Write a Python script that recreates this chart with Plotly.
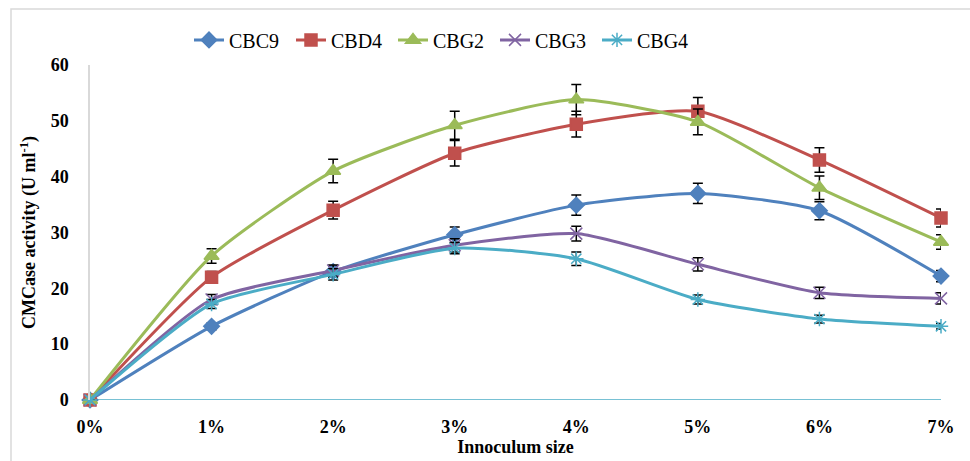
import plotly.graph_objects as go

categories = ["0%", "1%", "2%", "3%", "4%", "5%", "6%", "7%"]

cbc9 = [0, 13.2, 23.0, 29.6, 34.9, 37.0, 33.9, 22.2]
cbd4 = [0, 22.0, 34.0, 44.2, 49.4, 51.7, 43.0, 32.6]
cbg2 = [0, 25.8, 41.0, 49.2, 53.8, 49.8, 38.0, 28.3]
cbg3 = [0, 18.0, 23.2, 27.7, 29.8, 24.3, 19.2, 18.2]
cbg4 = [0, 17.2, 22.5, 27.2, 25.3, 18.0, 14.5, 13.2]

cbc9_err = [0, 0.6, 1.0, 1.4, 1.8, 1.8, 1.6, 1.0]
cbd4_err = [0, 1.0, 1.6, 2.3, 2.3, 2.5, 2.2, 1.6]
cbg2_err = [0, 1.3, 2.1, 2.5, 2.7, 2.3, 2.1, 1.3]
cbg3_err = [0, 0.9, 1.0, 1.2, 1.3, 1.2, 1.0, 1.0]
cbg4_err = [0, 0.8, 1.0, 1.0, 1.2, 0.8, 0.7, 0.5]

series = [
    ("CBC9", cbc9, cbc9_err, "#4F81BD", "diamond", 12),
    ("CBD4", cbd4, cbd4_err, "#C0504D", "square", 12),
    ("CBG2", cbg2, cbg2_err, "#9BBB59", "triangle-up", 13),
    ("CBG3", cbg3, cbg3_err, "#8064A2", "x-thin-open", 12),
    ("CBG4", cbg4, cbg4_err, "#4BACC6", "asterisk-open", 12),
]

xs = list(range(len(categories)))

fig = go.Figure()
for name, vals, errs, color, sym, size in series:
    fig.add_trace(go.Scatter(
        x=xs, y=vals, name=name, mode="lines+markers",
        line=dict(color=color, width=3, shape="spline", smoothing=0.6),
        marker=dict(symbol=sym, size=size, color=color,
                    line=dict(color=color, width=1.5)),
        error_y=dict(type="data", array=errs, visible=True,
                     color="black", thickness=1.5, width=5),
        cliponaxis=False,
    ))

font_family = "Times New Roman"

fig.update_layout(
    width=970, height=461,
    margin=dict(l=90, r=29, t=65, b=61, autoexpand=False),
    paper_bgcolor="white", plot_bgcolor="white",
    font=dict(family=font_family, color="black", size=17),
    showlegend=True,
    legend=dict(orientation="h", x=(444 - 90) / 851, xanchor="center", y=1.075, yanchor="middle",
                font=dict(size=20, family=font_family, color="black"), entrywidth=57,
                entrywidthmode="pixels", bgcolor="rgba(0,0,0,0)"),
    xaxis=dict(
        range=[0, 7], tickmode="array", tickvals=xs, ticktext=categories,
        showgrid=False, zeroline=False, showline=False, ticks="", automargin=False,
        tickfont=dict(size=18, family=font_family, weight="bold"),
        ticklabelstandoff=14,
        title=dict(text="<b>Innoculum size</b>", font=dict(size=18, family=font_family), standoff=4),
    ),
    yaxis=dict(
        range=[0, 60], tickvals=[0, 10, 20, 30, 40, 50, 60],
        showgrid=False, zeroline=False, showline=True, linecolor="#d9d9d9",
        linewidth=1.5, ticks="", automargin=False,
        tickfont=dict(size=18, family=font_family, weight="bold"),
        ticklabelstandoff=16,
        title=dict(text="<b>CMCase activity (U ml<sup>-1</sup>)</b>",
                   font=dict(size=18, family=font_family), standoff=10),
    ),
    shapes=[
        dict(type="line", xref="x", yref="y", x0=0, x1=7, y0=0, y1=0,
             line=dict(color="#4BACC6", width=1.5), layer="below"),
        dict(type="rect", xref="paper", yref="paper",
             x0=(11 - 90) / 851, x1=(990 - 90) / 851,
             y0=(400 - 480) / 335, y1=(400 - 9) / 335,
             line=dict(color="#d9d9d9", width=1.5), fillcolor="rgba(0,0,0,0)",
             layer="below"),
    ],
)

fig.write_html("out.html")
